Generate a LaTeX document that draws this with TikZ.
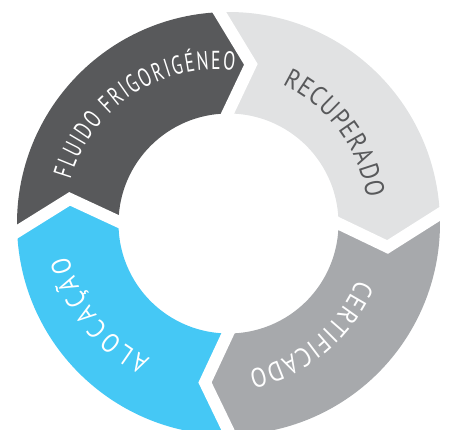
\documentclass[tikz,border=0pt]{standalone}
\usepackage{fontspec}
\newfontfamily\lblnarrow{PT Sans}[FakeStretch=0.68]
\newfontfamily\lblwide{PT Sans}[FakeStretch=0.86]
\newcommand\lblfont{\lblnarrow\fontsize{26}{30}\selectfont}
\newcommand\lblfontw{\lblwide\fontsize{27}{31}\selectfont}
\usetikzlibrary{decorations.text,calc}
\definecolor{cdark}{HTML}{58595B}
\definecolor{clight}{HTML}{E1E2E3}
\definecolor{cmed}{HTML}{A7A9AC}
\definecolor{ccyan}{HTML}{45C8F5}
\def\Ro{211.5}
\def\Ri{110}
\def\Rm{160.75}
\def\Rt{152}
\tikzset{
  gap/.style={draw=white, line width=12pt, shorten <=-10pt, shorten >=-10pt},
  arctext/.style={decorate, decoration={text along path, text align={fit to path},
     text color=#1, text format delimiters={|}{|}}}
}
\begin{document}
\begin{tikzpicture}[x=1pt,y=1pt]
\useasboundingbox (-228.5,-206.5) rectangle (224.5,223.5);
\clip (-228.5,-206.5) rectangle (224.5,223.5);
% boundary points: outer, tip, inner
\coordinate (To) at (92.5:\Ro);  \coordinate (Tt) at (82:\Rm);    \coordinate (Ti) at (90.5:\Ri);
\coordinate (Ko) at (2.6:\Ro);   \coordinate (Kt) at (-8.4:\Rm);  \coordinate (Ki) at (0:\Ri);
\coordinate (Bo) at (-89.5:\Ro); \coordinate (Bt) at (-98.4:\Rm); \coordinate (Bi) at (-90.3:\Ri);
\coordinate (Lo) at (182.2:\Ro); \coordinate (Lt) at (171.2:\Rm); \coordinate (Li) at (179:\Ri);
% segments
\fill[cdark] (Lo) arc[start angle=182.2, end angle=92.5, radius=\Ro] -- (Tt) -- (Ti)
  arc[start angle=90.5, end angle=179, radius=\Ri] -- (Lt) -- cycle;
\fill[clight] (To) arc[start angle=92.5, end angle=2.6, radius=\Ro] -- (Kt) -- (Ki)
  arc[start angle=0, end angle=90.5, radius=\Ri] -- (Tt) -- cycle;
\fill[cmed] (Ko) arc[start angle=2.6, end angle=-89.5, radius=\Ro] -- (Bt) -- (Bi)
  arc[start angle=-90.3, end angle=0, radius=\Ri] -- (Kt) -- cycle;
\fill[ccyan] (Bo) arc[start angle=-89.5, end angle=-177.8, radius=\Ro] -- (Lt) -- (Li)
  arc[start angle=-181, end angle=-90.3, radius=\Ri] -- (Bt) -- cycle;
% white gaps
\draw[gap] (Ti) -- (Tt) -- (To);
\draw[gap] (Ki) -- (Kt) -- (Ko);
\draw[gap] (Bi) -- (Bt) -- (Bo);
\draw[gap] (Li) -- (Lt) -- (Lo);
% labels
\coordinate (tc) at (-12,2);
\path[arctext=white, decoration={text={|\lblfont|FLUIDO FRIGORIGÉNEO}}]
  ($(tc)+(163.8:\Rt)$) arc[start angle=163.8, end angle=83.2, radius=\Rt];
\path[arctext=cdark, decoration={text={|\lblfontw|RECUPERADO}}]
  ($(tc)+(64.3:\Rt)$) arc[start angle=64.3, end angle=8.9, radius=\Rt];
\path[arctext=white, decoration={text={|\lblfontw|CERTIFICADO}}]
  ($(tc)+(-22.4:\Rt)$) arc[start angle=-22.4, end angle=-77.8, radius=\Rt];
\path[arctext=white, decoration={text={|\lblfontw|ALOCAÇÃO}}]
  ($(tc)+(-115.9:\Rt)$) arc[start angle=-115.9, end angle=-166.8, radius=\Rt];
\end{tikzpicture}
\end{document}
